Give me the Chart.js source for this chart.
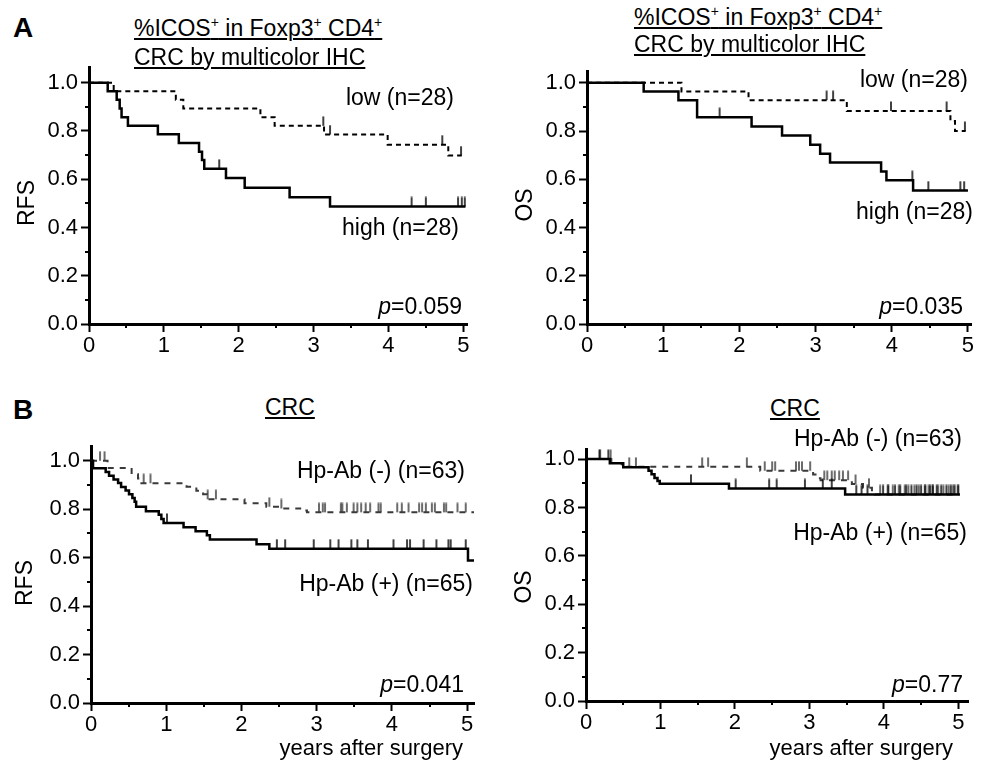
<!DOCTYPE html>
<html><head><meta charset="utf-8">
<script src="https://cdn.jsdelivr.net/npm/chart.js@4/dist/chart.umd.min.js"></script>
<style>
html,body{margin:0;padding:0;background:#fff;}
#fig{position:relative;width:985px;height:766px;overflow:hidden;font-family:'Liberation Sans',Arial,Helvetica,sans-serif;color:#000;}
.pw{position:absolute;}
.pw canvas{display:block;}
.t{position:absolute;white-space:nowrap;font-size:23px;line-height:23px;}
.u{text-decoration:underline;text-decoration-thickness:2px;text-underline-offset:2px;}
.sp{font-size:14px;vertical-align:9px;line-height:0;}
.lab{font-weight:bold;font-size:28px;line-height:28px;}
.rot{position:absolute;white-space:nowrap;font-size:23px;line-height:23px;transform:translate(-50%,-50%) rotate(-90deg);}
</style></head>
<body><div id="fig"></div>
<script>
// ---------- tick labels ----------
const xMajorTicks = [0, 1, 2, 3, 4, 5];
const xMinorTicks = [0.5, 1.5, 2.5, 3.5, 4.5];
const yMajorTicks = [0, 0.2, 0.4, 0.6, 0.8, 1.0];
const yMinorTicks = [0.1, 0.3, 0.5, 0.7, 0.9];

// ---------- Panel A, RFS (%ICOS+ high / low) ----------
const aRfsHighTime = [0, 0.25, 0.37, 0.41, 0.435, 0.52, 0.92, 1.20, 1.47, 1.51, 1.54, 1.83, 2.08, 2.68, 3.22, 5.03];
const aRfsHighSurv = [1, 0.964, 0.929, 0.893, 0.857, 0.821, 0.786, 0.750, 0.714, 0.679, 0.643, 0.605, 0.565, 0.525, 0.487, 0.487];
const aRfsHighCensTime = [1.74, 4.31, 4.50, 4.93, 4.98, 5.02];
const aRfsHighCensSurv = [0.643, 0.487, 0.487, 0.487, 0.487, 0.487];
const aRfsLowTime = [0, 0.33, 1.16, 1.26, 2.29, 2.48, 3.14, 3.99, 4.80, 4.98];
const aRfsLowSurv = [1, 0.964, 0.929, 0.893, 0.857, 0.821, 0.785, 0.743, 0.698, 0.698];
const aRfsLowCensTime = [3.13, 3.22, 4.72, 4.97];
const aRfsLowCensSurv = [0.821, 0.785, 0.743, 0.698];

// ---------- Panel A, OS ----------
const aOsHighTime = [0, 0.744, 1.20, 1.445, 2.16, 2.56, 2.93, 3.06, 3.19, 3.86, 3.93, 4.28, 5.0];
const aOsHighSurv = [1, 0.964, 0.928, 0.857, 0.819, 0.781, 0.743, 0.706, 0.670, 0.632, 0.596, 0.553, 0.553];
const aOsHighCensTime = [1.74, 4.27, 4.48, 4.90, 4.95];
const aOsHighCensSurv = [0.857, 0.596, 0.553, 0.553, 0.553];
const aOsLowTime = [0, 1.24, 2.12, 3.41, 4.77, 4.83, 4.97];
const aOsLowSurv = [1, 0.964, 0.928, 0.883, 0.842, 0.800, 0.800];
const aOsLowCensTime = [3.145, 3.23, 3.99, 4.72, 4.96];
const aOsLowCensSurv = [0.928, 0.928, 0.883, 0.883, 0.800];

// ---------- Panel B, RFS (Hp-Ab + / -) ----------
const bRfsPosTime = [0, 0.027, 0.195, 0.24, 0.30, 0.36, 0.40, 0.46, 0.505, 0.55, 0.58, 0.60, 0.73, 0.90, 0.935, 0.965, 1.23, 1.39, 1.54, 1.58, 2.20, 2.37, 5.01, 5.09];
const bRfsPosSurv = [1, 0.969, 0.954, 0.938, 0.923, 0.908, 0.892, 0.877, 0.862, 0.846, 0.831, 0.810, 0.792, 0.777, 0.760, 0.743, 0.725, 0.709, 0.692, 0.675, 0.655, 0.637, 0.588, 0.588];
const bRfsPosCensTime = [1.01, 2.47, 2.58, 2.96, 3.18, 3.29, 3.46, 3.54, 3.68, 4.02, 4.20, 4.24, 4.42, 4.59, 4.75, 4.78, 4.98];
const bRfsPosCensSurv = [0.743, 0.637, 0.637, 0.637, 0.637, 0.637, 0.637, 0.637, 0.637, 0.637, 0.637, 0.637, 0.637, 0.637, 0.637, 0.637, 0.637];
const bRfsNegTime = [0, 0.22, 0.54, 0.625, 0.67, 1.27, 1.40, 1.49, 1.54, 2.04, 2.33, 2.55, 2.78, 2.87, 5.09];
const bRfsNegSurv = [1, 0.970, 0.944, 0.927, 0.907, 0.893, 0.876, 0.862, 0.841, 0.825, 0.810, 0.803, 0.795, 0.787, 0.787];
const bRfsNegCensTime = [0.12, 0.18, 0.70, 0.79, 1.55, 1.66, 2.37, 2.53, 3.03, 3.08, 3.11, 3.32, 3.34, 3.40, 3.49, 3.54, 3.59, 3.65, 3.71, 3.82, 3.85, 4.07, 4.13, 4.22, 4.36, 4.40, 4.45, 4.53, 4.57, 4.69, 4.72, 4.87, 4.98];
const bRfsNegCensSurv = [1, 1, 0.907, 0.907, 0.841, 0.841, 0.810, 0.803, 0.787, 0.787, 0.787, 0.787, 0.787, 0.787, 0.787, 0.787, 0.787, 0.787, 0.787, 0.787, 0.787, 0.787, 0.787, 0.787, 0.787, 0.787, 0.787, 0.787, 0.787, 0.787, 0.787, 0.787, 0.787];

// ---------- Panel B, OS ----------
const bOsPosTime = [0, 0.32, 0.50, 0.84, 0.88, 0.92, 0.96, 0.99, 1.92, 3.48, 5.02];
const bOsPosSurv = [1, 0.983, 0.966, 0.952, 0.937, 0.922, 0.910, 0.898, 0.879, 0.854, 0.854];
const bOsPosCensTime = [0.18, 0.30, 1.41, 2.01, 2.46, 2.56, 2.94, 3.18, 3.30, 3.63, 3.70, 3.78, 3.99, 4.06, 4.15, 4.22, 4.30, 4.37, 4.44, 4.50, 4.55, 4.62, 4.66, 4.71, 4.77, 4.84, 4.90, 4.95, 5.00];
const bOsPosCensSurv = [1, 1, 0.898, 0.879, 0.879, 0.879, 0.879, 0.879, 0.879, 0.854, 0.854, 0.854, 0.854, 0.854, 0.854, 0.854, 0.854, 0.854, 0.854, 0.854, 0.854, 0.854, 0.854, 0.854, 0.854, 0.854, 0.854, 0.854, 0.854];
const bOsNegTime = [0, 0.34, 0.48, 2.34, 3.05, 3.10, 3.15, 3.57, 3.72, 3.84, 3.88, 5.02];
const bOsNegSurv = [1, 0.984, 0.968, 0.952, 0.936, 0.921, 0.913, 0.897, 0.882, 0.866, 0.854, 0.854];
const bOsNegCensTime = [0.19, 0.33, 0.58, 0.67, 1.56, 1.64, 2.16, 2.40, 2.50, 2.54, 2.82, 2.86, 2.90, 3.01, 3.20, 3.24, 3.30, 3.34, 3.40, 3.45, 3.52, 3.62, 3.80, 3.95, 4.05, 4.12, 4.20, 4.28, 4.33, 4.41, 4.47, 4.56, 4.60, 4.65, 4.73, 4.80, 4.87, 4.93, 4.99];
const bOsNegCensSurv = [1, 1, 0.968, 0.968, 0.968, 0.968, 0.968, 0.952, 0.952, 0.952, 0.952, 0.952, 0.952, 0.952, 0.913, 0.913, 0.913, 0.913, 0.913, 0.913, 0.913, 0.897, 0.882, 0.854, 0.854, 0.854, 0.854, 0.854, 0.854, 0.854, 0.854, 0.854, 0.854, 0.854, 0.854, 0.854, 0.854, 0.854, 0.854];

// ---------- helpers ----------
const FONT = "'Liberation Sans', Arial, Helvetica, sans-serif";
const fig = document.getElementById('fig');

function pts(t, s) { return t.map((v, i) => ({ x: v, y: s[i] })); }

function censorImg(color) {
  const c = document.createElement('canvas');
  c.width = 4; c.height = 20;
  const g = c.getContext('2d');
  g.strokeStyle = color; g.lineWidth = 1.5;
  g.beginPath(); g.moveTo(2, 0.5); g.lineTo(2, 10); g.stroke();
  return c;
}

const minorTicksPlugin = {
  id: 'minorTicks',
  afterDraw(chart) {
    const ctx = chart.ctx, xs = chart.scales.x, ys = chart.scales.y;
    ctx.save();
    ctx.strokeStyle = '#000'; ctx.lineWidth = 2;
    ctx.beginPath();
    xMinorTicks.forEach(v => { const px = Math.round(xs.getPixelForValue(v)); ctx.moveTo(px, xs.top); ctx.lineTo(px, xs.top + 4); });
    yMinorTicks.forEach(v => { const py = Math.round(ys.getPixelForValue(v)); ctx.moveTo(ys.right, py); ctx.lineTo(ys.right - 4, py); });
    ctx.stroke();
    ctx.restore();
  }
};

function makePanel(p) {
  const pad = { l: 72, t: 14, r: 14, b: 46 };
  let w = Math.round(p.area.right - p.area.left + pad.l + pad.r);
  let h = Math.round(p.area.bottom - p.area.top + pad.t + pad.b);
  const wrap = document.createElement('div');
  wrap.className = 'pw';
  wrap.style.width = w + 'px'; wrap.style.height = h + 'px';
  const cv = document.createElement('canvas');
  cv.width = w; cv.height = h;
  wrap.appendChild(cv); fig.appendChild(wrap);

  const datasets = [];
  p.series.forEach(s => {
    datasets.push({
      type: 'line', data: pts(s.t, s.s), borderColor: s.color, borderWidth: s.width,
      borderDash: s.dash, stepped: 'before', pointRadius: 0, fill: false, clip: false
    });
    datasets.push({
      type: 'scatter', data: pts(s.ct, s.cs), pointStyle: censorImg(s.color),
      pointRadius: 5, pointHoverRadius: 5, showLine: false, clip: false
    });
  });

  const chart = new Chart(cv, {
    type: 'line',
    data: { datasets },
    plugins: [minorTicksPlugin],
    options: {
      responsive: false, animation: false, devicePixelRatio: 1, events: [],
      layout: { padding: { left: 0, top: pad.t, right: pad.r, bottom: 0 } },
      plugins: { legend: { display: false }, tooltip: { enabled: false } },
      scales: {
        x: {
          type: 'linear', min: 0, max: p.xMax,
          afterBuildTicks: sc => { sc.ticks = xMajorTicks.map(v => ({ value: v })); },
          afterFit: sc => { sc.height = pad.b; },
          border: { display: true, color: '#000', width: 3 },
          grid: { display: true, drawOnChartArea: false, drawTicks: true, tickLength: 8, tickColor: '#000', tickWidth: 2 },
          ticks: { color: '#000', font: { family: FONT, size: 22 }, padding: 1, maxRotation: 0, autoSkip: false, callback: v => String(v) }
        },
        y: {
          type: 'linear', min: 0, max: p.yMax,
          afterBuildTicks: sc => { sc.ticks = yMajorTicks.map(v => ({ value: v })); },
          afterFit: sc => { sc.width = pad.l; },
          border: { display: true, color: '#000', width: 3 },
          grid: { display: true, drawOnChartArea: false, drawTicks: true, tickLength: 8, tickColor: '#000', tickWidth: 2 },
          ticks: { color: '#000', font: { family: FONT, size: 22 }, padding: 3, autoSkip: false, callback: v => Number(v).toFixed(1) }
        }
      }
    }
  });

  for (let k = 0; k < 3; k++) {
    const ca = chart.chartArea;
    const dw = (p.area.right - p.area.left) - (ca.right - ca.left);
    const dh = (p.area.bottom - p.area.top) - (ca.bottom - ca.top);
    if (Math.abs(dw) < 0.5 && Math.abs(dh) < 0.5) break;
    w = Math.round(w + dw); h = Math.round(h + dh);
    wrap.style.width = w + 'px'; wrap.style.height = h + 'px';
    chart.resize(w, h);
  }
  const ca = chart.chartArea;
  wrap.style.left = Math.round(p.area.left - ca.left) + 'px';
  wrap.style.top = Math.round(p.area.top - ca.top) + 'px';
  return chart;
}

function addText(html, x, baseline, align, cls, size) {
  const fs = size || 23;
  const d = document.createElement('div');
  d.className = 't' + (cls ? ' ' + cls : '');
  d.style.fontSize = fs + 'px'; d.style.lineHeight = fs + 'px';
  d.innerHTML = html;
  d.style.top = (baseline - 0.8465 * fs) + 'px';
  if (align === 'right') { d.style.left = (x - 600) + 'px'; d.style.width = '600px'; d.style.textAlign = 'right'; }
  else d.style.left = x + 'px';
  fig.appendChild(d);
}
function addRot(text, cx, cy) {
  const d = document.createElement('div');
  d.className = 'rot'; d.textContent = text;
  d.style.left = cx + 'px'; d.style.top = cy + 'px';
  fig.appendChild(d);
}

// ---------- panels ----------
const SOLID_A = { color: '#000', width: 2.5, dash: [] };
const DASH_A = { color: '#000', width: 2, dash: [5, 4] };
const SOLID_B = { color: '#000', width: 2.5, dash: [] };
const DASH_B = { color: '#3a3a3a', width: 2, dash: [6, 6] };

makePanel({ area: { left: 88.5, right: 466.2, top: 66.9, bottom: 326 }, xMax: 5.05, yMax: 1.064,
  series: [
    Object.assign({ t: aRfsHighTime, s: aRfsHighSurv, ct: aRfsHighCensTime, cs: aRfsHighCensSurv }, SOLID_A),
    Object.assign({ t: aRfsLowTime, s: aRfsLowSurv, ct: aRfsLowCensTime, cs: aRfsLowCensSurv }, DASH_A)
  ] });
makePanel({ area: { left: 586.7, right: 970.2, top: 71.6, bottom: 326.7 }, xMax: 5.04, yMax: 1.048,
  series: [
    Object.assign({ t: aOsHighTime, s: aOsHighSurv, ct: aOsHighCensTime, cs: aOsHighCensSurv }, SOLID_A),
    Object.assign({ t: aOsLowTime, s: aOsLowSurv, ct: aOsLowCensTime, cs: aOsLowCensSurv }, DASH_A)
  ] });
makePanel({ area: { left: 90.7, right: 473.5, top: 446.4, bottom: 705 }, xMax: 5.09, yMax: 1.06,
  series: [
    Object.assign({ t: bRfsPosTime, s: bRfsPosSurv, ct: bRfsPosCensTime, cs: bRfsPosCensSurv }, SOLID_B),
    Object.assign({ t: bRfsNegTime, s: bRfsNegSurv, ct: bRfsNegCensTime, cs: bRfsNegCensSurv }, DASH_B)
  ] });
makePanel({ area: { left: 586, right: 968, top: 449, bottom: 703.3 }, xMax: 5.13, yMax: 1.041,
  series: [
    Object.assign({ t: bOsPosTime, s: bOsPosSurv, ct: bOsPosCensTime, cs: bOsPosCensSurv }, SOLID_B),
    Object.assign({ t: bOsNegTime, s: bOsNegSurv, ct: bOsNegCensTime, cs: bOsNegCensSurv }, DASH_B)
  ] });

// ---------- text ----------
const SUP = '<span class="sp">+</span>';
addText('A', 13, 38, 'left', 'lab', 28);
addText('B', 13, 420, 'left', 'lab', 28);

addText('<span class="u">%ICOS' + SUP + ' in Foxp3' + SUP + ' CD4' + SUP + '</span>', 134, 36.7);
addText('<span class="u">CRC by multicolor IHC</span>', 134, 65);
addText('<span class="u">%ICOS' + SUP + ' in Foxp3' + SUP + ' CD4' + SUP + '</span>', 634, 25);
addText('<span class="u">CRC by multicolor IHC</span>', 634, 52.5);
addText('<span class="u">CRC</span>', 265, 415.5);
addText('<span class="u">CRC</span>', 770, 416.5);

addText('low (n=28)', 454, 105, 'right');
addText('high (n=28)', 459, 235, 'right');
addText('<i>p</i>=0.059', 462, 314, 'right');
addText('low (n=28)', 968, 87, 'right');
addText('high (n=28)', 973, 219, 'right');
addText('<i>p</i>=0.035', 963, 314, 'right');
addText('Hp-Ab (-) (n=63)', 465, 478, 'right');
addText('Hp-Ab (+) (n=65)', 473, 591, 'right');
addText('<i>p</i>=0.041', 464, 692.5, 'right');
addText('years after surgery', 463, 756, 'right', '', 22);
addText('Hp-Ab (-) (n=63)', 962, 446.5, 'right');
addText('Hp-Ab (+) (n=65)', 967, 540, 'right');
addText('<i>p</i>=0.77', 963, 692.5, 'right');
addText('years after surgery', 953, 756, 'right', '', 22);

addRot('RFS', 26, 203);
addRot('OS', 524, 205);
addRot('RFS', 24, 583);
addRot('OS', 523, 587);
</script>
</body></html>
